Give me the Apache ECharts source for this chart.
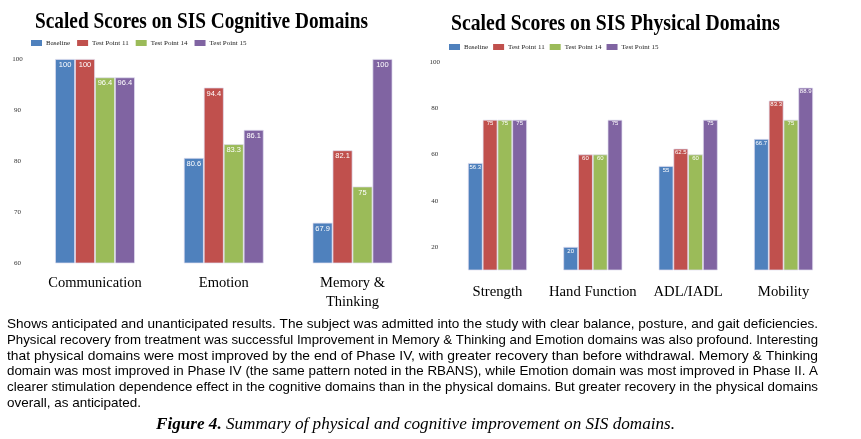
<!DOCTYPE html>
<html>
<head>
<meta charset="utf-8">
<script src="https://cdn.jsdelivr.net/npm/echarts@6/dist/echarts.min.js"></script>
<style>
html,body{margin:0;padding:0;background:#fff;}
#chart{width:861px;height:439px;}
</style>
</head>
<body>
<div id="chart"></div>
<script>
// ---- data ----
const seriesNames = ['Baseline', 'Test Point 11', 'Test Point 14', 'Test Point 15'];
const cognitiveCategories = ['Communication', 'Emotion', 'Memory &\nThinking'];
const cognitiveBaseline = [100, 80.6, 67.9];
const cognitiveTP11 = [100, 94.4, 82.1];
const cognitiveTP14 = [96.4, 83.3, 75];
const cognitiveTP15 = [96.4, 86.1, 100];
const cognitiveTicks = [60, 70, 80, 90, 100];

const physicalCategories = ['Strength', 'Hand Function', 'ADL/IADL', 'Mobility'];
const physicalBaseline = [56.3, 20, 55, 66.7];
const physicalTP11 = [75, 60, 62.5, 83.3];
const physicalTP14 = [75, 60, 60, 75];
const physicalTP15 = [75, 75, 75, 88.9];
const physicalTicks = [20, 40, 60, 80, 100];

const cognitiveTitle = 'Scaled Scores on SIS Cognitive Domains';
const physicalTitle = 'Scaled Scores on SIS Physical Domains';
const captionLines = [
  'Shows anticipated and unanticipated results. The subject was admitted into the study with clear balance, posture, and gait deficiencies.',
  'Physical recovery from treatment was successful Improvement in Memory & Thinking and Emotion domains was also profound. Interesting',
  'that physical domains were most improved by the end of Phase IV, with greater recovery than before withdrawal. Memory & Thinking',
  'domain was most improved in Phase IV (the same pattern noted in the RBANS), while Emotion domain was most improved in Phase II. A',
  'clearer stimulation dependence effect in the cognitive domains than in the physical domains. But greater recovery in the physical domains',
  'overall, as anticipated.'
];
const figureLabel = 'Figure 4.';
const figureText = ' Summary of physical and cognitive improvement on SIS domains.';

// ---- styling ----
const colors = ['#4F81BD', '#C0504D', '#9BBB59', '#8064A2'];
const serif = 'Liberation Serif, Times New Roman, serif';
const sans = 'Liberation Sans, Arial, sans-serif';

const ctx = document.createElement('canvas').getContext('2d');
function measure(text, font) { ctx.font = font; return ctx.measureText(text).width; }

const graphics = [];
function fitText(text, font, left, y, targetWidth) {
  const w = measure(text, font);
  const s = targetWidth ? targetWidth / w : 1;
  graphics.push({
    type: 'text', x: left, y: y, scaleX: s, silent: true,
    style: { text: text, font: font, fill: '#000', textAlign: 'left', textVerticalAlign: 'middle' }
  });
  return s;
}

// titles
const titleFontL = 'bold 24px ' + serif;
const titleFontR = 'bold 23px ' + serif;
fitText(cognitiveTitle, titleFontL, 35, 22, 333);
fitText(physicalTitle, titleFontR, 451, 24, 329);

// caption paragraph
const capFont = '13.5px ' + sans;
let scales = [];
captionLines.forEach((line, i) => {
  if (i < captionLines.length - 1) {
    const w = measure(line, capFont);
    scales.push(811 / w);
  }
});
const avgScale = scales.reduce((a, b) => a + b, 0) / scales.length;
captionLines.forEach((line, i) => {
  const y = 324.5 + i * 15.75;
  if (i < captionLines.length - 1) fitText(line, capFont, 7, y, 811);
  else {
    graphics.push({ type: 'text', x: 7, y: y, scaleX: avgScale, silent: true,
      style: { text: line, font: capFont, fill: '#000', textAlign: 'left', textVerticalAlign: 'middle' } });
  }
});

// figure caption
const figFontB = 'italic bold 16px ' + serif;
const figFontI = 'italic 16px ' + serif;
const w1 = measure(figureLabel, figFontB), w2 = measure(figureText, figFontI);
const fs = 519 / (w1 + w2);
graphics.push({ type: 'text', x: 156, y: 425, scaleX: fs, silent: true,
  style: { text: figureLabel, font: figFontB, fill: '#000', textAlign: 'left', textVerticalAlign: 'middle' } });
graphics.push({ type: 'text', x: 156 + w1 * fs, y: 425, scaleX: fs, silent: true,
  style: { text: figureText, font: figFontI, fill: '#000', textAlign: 'left', textVerticalAlign: 'middle' } });

function makeSeries(name, data, idx, colorIdx, labelSize, labelDist) {
  return {
    name: name, type: 'bar', xAxisIndex: idx, yAxisIndex: idx, data: data,
    barGap: '0%', barCategoryGap: '38%',
    itemStyle: { color: colors[colorIdx], borderColor: 'rgba(225,222,240,0.9)', borderWidth: 0.8 },
    label: { show: true, position: 'insideTop', distance: labelDist, color: '#fff',
      fontSize: labelSize, fontFamily: sans },
    emphasis: { disabled: true }
  };
}

const cogData = [cognitiveBaseline, cognitiveTP11, cognitiveTP14, cognitiveTP15];
const phyData = [physicalBaseline, physicalTP11, physicalTP14, physicalTP15];
const series = [];
seriesNames.forEach((n, i) => series.push(makeSeries(n, cogData[i], 0, i, 7.5, 2)));
seriesNames.forEach((n, i) => series.push(makeSeries(n, phyData[i], 1, i, 6, 1)));

const legendCommon = {
  data: seriesNames, icon: 'rect', itemWidth: 11, itemHeight: 6, padding: 0,
  itemStyle: { borderWidth: 0 },
  textStyle: { fontSize: 7, fontFamily: serif, color: '#222', padding: [0, 0, 0, -1] },
  selectedMode: false
};

const chart = echarts.init(document.getElementById('chart'), null, { renderer: 'canvas' });
chart.setOption({
  backgroundColor: '#fff',
  animation: false,
  legend: [
    Object.assign({}, legendCommon, { left: 31, top: 39.5, itemGap: 7 }),
    Object.assign({}, legendCommon, { left: 449, top: 43.5, itemGap: 5 })
  ],
  grid: [
    { left: 30.6, width: 386.3, top: 59, bottom: 176 },
    { left: 449.8, width: 381.4, top: 62, bottom: 169 }
  ],
  xAxis: [
    { type: 'category', gridIndex: 0, data: cognitiveCategories,
      axisLine: { show: false }, axisTick: { show: false },
      axisLabel: { margin: 11, fontSize: 14.5, lineHeight: 18.5, fontFamily: serif, color: '#000', interval: 0 } },
    { type: 'category', gridIndex: 1, data: physicalCategories,
      axisLine: { show: false }, axisTick: { show: false },
      axisLabel: { margin: 13, fontSize: 14.7, lineHeight: 18, fontFamily: serif, color: '#000', interval: 0 } }
  ],
  yAxis: [
    { type: 'value', gridIndex: 0, min: 60, max: 100, interval: 10,
      axisLine: { show: false }, axisTick: { show: false }, splitLine: { show: false },
      axisLabel: { margin: 13, align: 'center', fontSize: 7, fontFamily: serif, color: '#333',
        formatter: v => cognitiveTicks.includes(v) ? String(v) : '' } },
    { type: 'value', gridIndex: 1, min: 10, max: 100, interval: 10,
      axisLine: { show: false }, axisTick: { show: false }, splitLine: { show: false },
      axisLabel: { margin: 15, align: 'center', fontSize: 7, fontFamily: serif, color: '#333',
        formatter: v => physicalTicks.includes(v) ? String(v) : '' } }
  ],
  series: series,
  graphic: graphics
});
</script>
</body>
</html>
